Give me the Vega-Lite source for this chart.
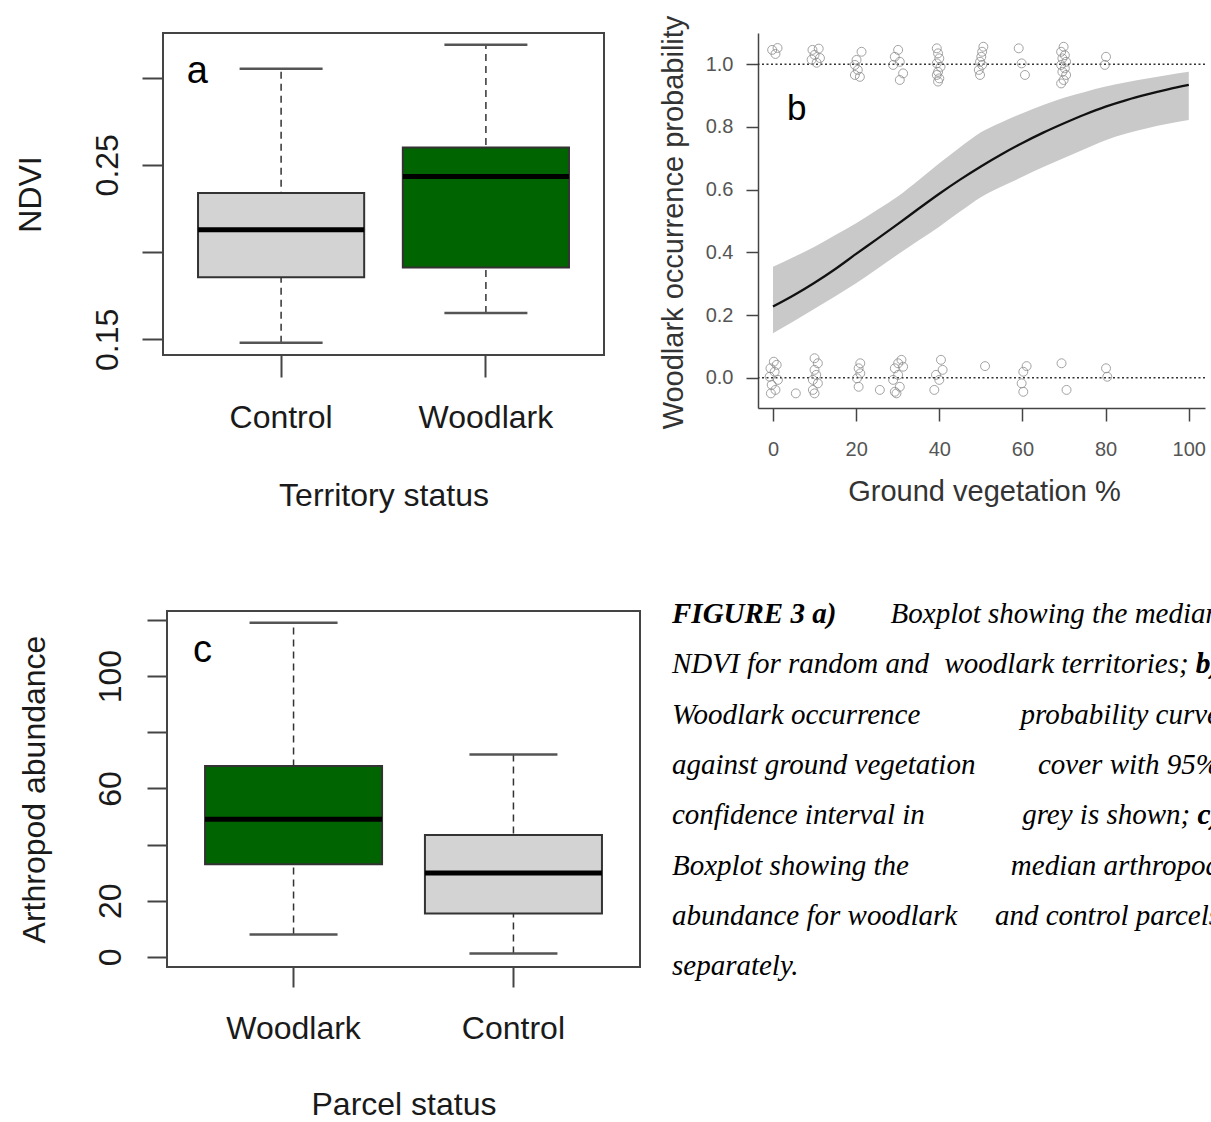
{
  "$schema": "https://vega.github.io/schema/vega-lite/v6.json",
  "autosize": {"type": "none"},
  "padding": {"left": 163, "top": 33, "right": 1048, "bottom": 1089},
  "background": "white",
  "usermeta": {"embedOptions": {"actions": false}},
  "config": {
    "font": "Liberation Sans",
    "view": {"stroke": null},
    "axis": {"grid": false, "labelFont": "Liberation Sans", "titleFont": "Liberation Sans", "titleFontWeight": "normal"}
  },
  "bounds": "flush",
  "spacing": 578,
  "vconcat": [
    {
      "bounds": "flush",
      "spacing": 154,
      "hconcat": [
        {
          "width": 441,
          "height": 322,
          "view": {"stroke": "#444", "strokeWidth": 2},
          "resolve": {"scale": {"x": "independent", "y": "independent"}},
          "layer": [
            {
              "data": {"values": [
                {"status": "Control", "lower": 0.148, "q1": 0.1856, "median": 0.2127, "q3": 0.2338, "upper": 0.305},
                {"status": "Woodlark", "lower": 0.165, "q1": 0.1911, "median": 0.2433, "q3": 0.2599, "upper": 0.3188}
              ]},
              "encoding": {
                "x": {
                  "field": "status", "type": "nominal",
                  "scale": {"domain": ["Control", "Woodlark"], "paddingInner": 0.1887, "paddingOuter": 0.171},
                  "axis": {"title": "Territory status", "domain": false, "tickSize": 22, "tickWidth": 2, "tickColor": "#444",
                    "labelFontSize": 32, "labelColor": "#1a1a1a", "labelPadding": 50, "labelBaseline": "alphabetic", "labelAngle": 0,
                    "titleFontSize": 32, "titleColor": "#1a1a1a", "titleX": 220.5, "titleY": 150, "titleBaseline": "alphabetic", "titleAlign": "center"}
                }
              },
              "layer": [
                {
                  "mark": {"type": "rule", "strokeDash": [7, 5], "strokeWidth": 1.5, "color": "#333"},
                  "encoding": {
                    "y": {"field": "lower", "type": "quantitative", "title": "NDVI",
                      "scale": {"domain": [0.141, 0.3255], "nice": false, "zero": false},
                      "axis": {"values": [0.15, 0.2, 0.25, 0.3], "format": ".2f",
                        "labelExpr": "datum.label == '0.15' || datum.label == '0.25' ? datum.label : ''",
                        "domain": false, "tickSize": 21, "tickWidth": 2, "tickColor": "#444",
                        "labelAngle": -90, "labelAlign": "center", "labelBaseline": "alphabetic", "labelPadding": 25, "labelOverlap": false,
                        "labelFontSize": 32, "labelColor": "#1a1a1a",
                        "titleFontSize": 32, "titleColor": "#1a1a1a", "titleAngle": -90, "titleX": -123, "titleY": 161, "titleAlign": "center", "titleBaseline": "alphabetic"}},
                    "y2": {"field": "upper"}
                  }
                },
                {
                  "mark": {"type": "tick", "size": 83, "thickness": 2.5, "color": "#555", "opacity": 1},
                  "encoding": {"y": {"field": "lower", "type": "quantitative", "title": "NDVI"}}
                },
                {
                  "mark": {"type": "tick", "size": 83, "thickness": 2.5, "color": "#555", "opacity": 1},
                  "encoding": {"y": {"field": "upper", "type": "quantitative", "title": "NDVI"}}
                },
                {
                  "mark": {"type": "bar", "stroke": "#333", "strokeWidth": 2, "opacity": 1},
                  "encoding": {
                    "y": {"field": "q1", "type": "quantitative", "title": "NDVI"},
                    "y2": {"field": "q3"},
                    "fill": {"field": "status", "type": "nominal", "scale": {"domain": ["Control", "Woodlark"], "range": ["#d3d3d3", "#006400"]}, "legend": null}
                  }
                },
                {
                  "mark": {"type": "tick", "size": 166, "thickness": 5, "color": "#000", "opacity": 1},
                  "encoding": {"y": {"field": "median", "type": "quantitative", "title": "NDVI"}}
                }
              ]
            },
            {
              "data": {"values": [{"label": "a"}]},
              "mark": {"type": "text", "fontSize": 38, "align": "left", "baseline": "alphabetic", "color": "#000"},
              "encoding": {
                "text": {"field": "label"},
                "x": {"datum": 0.54, "type": "quantitative", "scale": {"domain": [0.424, 2.576], "nice": false, "zero": false}, "axis": null},
                "y": {"datum": 0.297, "type": "quantitative", "scale": {"domain": [0.141, 0.3255], "nice": false, "zero": false}, "axis": null}
              }
            }
          ]
        },
        {
          "width": 447,
          "height": 375,
          "resolve": {"scale": {"x": "independent", "y": "independent"}},
          "layer": [
            {
              "encoding": {
                "x": {"field": "veg", "type": "quantitative", "title": "Ground vegetation %",
                  "scale": {"domain": [-3.6, 103.9], "nice": false, "zero": false},
                  "axis": {"values": [0, 20, 40, 60, 80, 100], "domainColor": "#444", "domainWidth": 1.5,
                    "tickSize": 13, "tickWidth": 1.5, "tickColor": "#444",
                    "labelFontSize": 20, "labelColor": "#555", "labelPadding": 34, "labelBaseline": "alphabetic", "labelFlush": false, "labelOverlap": false,
                    "titleFontSize": 29, "titleColor": "#333", "titleX": 226, "titleY": 92, "titleBaseline": "alphabetic", "titleAlign": "center"}
                }
              },
              "layer": [
                {
                  "data": {"values": [
                    {"veg": 0, "p": 0.227, "lo": 0.142, "hi": 0.354},
                    {"veg": 5, "p": 0.263, "lo": 0.18, "hi": 0.385},
                    {"veg": 10, "p": 0.303, "lo": 0.22, "hi": 0.418},
                    {"veg": 15, "p": 0.347, "lo": 0.26, "hi": 0.455},
                    {"veg": 20, "p": 0.395, "lo": 0.301, "hi": 0.493},
                    {"veg": 25, "p": 0.442, "lo": 0.347, "hi": 0.535},
                    {"veg": 30, "p": 0.49, "lo": 0.393, "hi": 0.578},
                    {"veg": 35, "p": 0.539, "lo": 0.438, "hi": 0.63},
                    {"veg": 40, "p": 0.587, "lo": 0.482, "hi": 0.684},
                    {"veg": 45, "p": 0.632, "lo": 0.53, "hi": 0.735},
                    {"veg": 50, "p": 0.674, "lo": 0.576, "hi": 0.783},
                    {"veg": 55, "p": 0.713, "lo": 0.61, "hi": 0.815},
                    {"veg": 60, "p": 0.749, "lo": 0.641, "hi": 0.844},
                    {"veg": 65, "p": 0.782, "lo": 0.672, "hi": 0.87},
                    {"veg": 70, "p": 0.812, "lo": 0.701, "hi": 0.893},
                    {"veg": 75, "p": 0.84, "lo": 0.73, "hi": 0.912},
                    {"veg": 80, "p": 0.865, "lo": 0.758, "hi": 0.929},
                    {"veg": 85, "p": 0.886, "lo": 0.779, "hi": 0.943},
                    {"veg": 90, "p": 0.904, "lo": 0.796, "hi": 0.955},
                    {"veg": 95, "p": 0.92, "lo": 0.81, "hi": 0.966},
                    {"veg": 100, "p": 0.934, "lo": 0.822, "hi": 0.976}
                  ]},
                  "layer": [
                    {
                      "mark": {"type": "area", "color": "#c9c9c9", "opacity": 1, "interpolate": "monotone"},
                      "encoding": {
                        "y": {"field": "lo", "type": "quantitative", "title": "Woodlark occurrence probability",
                          "scale": {"domain": [-0.0967, 1.0999], "nice": false, "zero": false},
                          "axis": {"values": [0, 0.2, 0.4, 0.6, 0.8, 1], "format": ".1f", "domainColor": "#444", "domainWidth": 1.5,
                            "tickSize": 12, "tickWidth": 1.5, "tickColor": "#444",
                            "labelFontSize": 20, "labelColor": "#555", "labelPadding": 13, "labelAlign": "right", "labelBaseline": "middle", "labelFlush": false, "labelOverlap": false,
                            "titleFontSize": 29, "titleColor": "#333", "titleAngle": -90, "titleX": -76, "titleY": 189, "titleAlign": "center", "titleBaseline": "alphabetic"}},
                        "y2": {"field": "hi"}
                      }
                    },
                    {
                      "mark": {"type": "line", "color": "#111", "strokeWidth": 2.3, "interpolate": "monotone"},
                      "encoding": {"y": {"field": "p", "type": "quantitative", "title": "Woodlark occurrence probability"}}
                    }
                  ]
                },
                {
                  "data": {"values": [{"ref": 0}, {"ref": 1}]},
                  "mark": {"type": "rule", "strokeDash": [2, 2.5], "strokeWidth": 1.5, "color": "#333"},
                  "encoding": {"x": null, "y": {"field": "ref", "type": "quantitative", "title": "Woodlark occurrence probability"}}
                },
                {
                  "data": {"values": [
                    {"veg": -0.2, "occ": 1.046}, {"veg": 1.1, "occ": 1.052}, {"veg": 0.6, "occ": 1.033},
                    {"veg": 9.5, "occ": 1.046}, {"veg": 11.0, "occ": 1.05}, {"veg": 10.0, "occ": 1.03}, {"veg": 11.3, "occ": 1.02}, {"veg": 9.3, "occ": 1.015}, {"veg": 10.5, "occ": 1.005},
                    {"veg": 21.3, "occ": 1.04}, {"veg": 20.1, "occ": 1.014}, {"veg": 19.7, "occ": 0.998}, {"veg": 20.4, "occ": 0.982}, {"veg": 19.7, "occ": 0.966}, {"veg": 20.9, "occ": 0.96},
                    {"veg": 30.1, "occ": 1.046}, {"veg": 29.3, "occ": 1.024}, {"veg": 30.5, "occ": 1.008}, {"veg": 28.9, "occ": 0.998}, {"veg": 31.3, "occ": 0.971}, {"veg": 30.5, "occ": 0.95},
                    {"veg": 39.4, "occ": 1.051}, {"veg": 39.7, "occ": 1.035}, {"veg": 40.0, "occ": 1.019}, {"veg": 39.4, "occ": 1.003}, {"veg": 40.3, "occ": 0.992}, {"veg": 39.7, "occ": 0.976}, {"veg": 39.4, "occ": 0.966}, {"veg": 40.0, "occ": 0.955}, {"veg": 39.7, "occ": 0.945},
                    {"veg": 50.6, "occ": 1.056}, {"veg": 50.3, "occ": 1.04}, {"veg": 50.1, "occ": 1.024}, {"veg": 49.8, "occ": 1.008}, {"veg": 50.3, "occ": 0.998}, {"veg": 49.5, "occ": 0.982}, {"veg": 49.8, "occ": 0.966},
                    {"veg": 59.1, "occ": 1.051}, {"veg": 59.8, "occ": 1.003}, {"veg": 60.6, "occ": 0.966},
                    {"veg": 69.9, "occ": 1.056}, {"veg": 69.3, "occ": 1.04}, {"veg": 70.2, "occ": 1.029}, {"veg": 69.6, "occ": 1.019}, {"veg": 70.5, "occ": 1.008}, {"veg": 69.3, "occ": 0.998}, {"veg": 70.2, "occ": 0.987}, {"veg": 69.6, "occ": 0.976}, {"veg": 70.5, "occ": 0.966}, {"veg": 69.9, "occ": 0.95}, {"veg": 69.3, "occ": 0.939},
                    {"veg": 80.1, "occ": 1.024}, {"veg": 79.8, "occ": 0.998},
                    {"veg": 0.2, "occ": 0.051}, {"veg": 0.9, "occ": 0.041}, {"veg": -0.6, "occ": 0.03}, {"veg": 0.4, "occ": 0.019}, {"veg": -0.8, "occ": 0.003}, {"veg": 1.2, "occ": -0.007}, {"veg": -0.3, "occ": -0.023}, {"veg": 0.6, "occ": -0.039}, {"veg": -0.5, "occ": -0.05},
                    {"veg": 5.5, "occ": -0.05},
                    {"veg": 10.0, "occ": 0.062}, {"veg": 10.8, "occ": 0.046}, {"veg": 10.0, "occ": 0.025}, {"veg": 10.4, "occ": 0.009}, {"veg": 9.6, "occ": -0.007}, {"veg": 10.8, "occ": -0.018}, {"veg": 9.6, "occ": -0.039}, {"veg": 10.0, "occ": -0.05},
                    {"veg": 21.0, "occ": 0.046}, {"veg": 20.6, "occ": 0.03}, {"veg": 21.0, "occ": 0.014}, {"veg": 20.2, "occ": -0.002}, {"veg": 20.6, "occ": -0.029},
                    {"veg": 25.7, "occ": -0.039},
                    {"veg": 30.9, "occ": 0.057}, {"veg": 30.1, "occ": 0.046}, {"veg": 31.3, "occ": 0.035}, {"veg": 29.3, "occ": 0.03}, {"veg": 30.1, "occ": 0.009}, {"veg": 28.9, "occ": -0.007}, {"veg": 30.5, "occ": -0.029}, {"veg": 29.3, "occ": -0.045}, {"veg": 29.7, "occ": -0.05},
                    {"veg": 40.4, "occ": 0.057}, {"veg": 40.8, "occ": 0.025}, {"veg": 39.2, "occ": 0.009}, {"veg": 40.0, "occ": -0.007}, {"veg": 38.8, "occ": -0.039},
                    {"veg": 51.0, "occ": 0.037},
                    {"veg": 61.0, "occ": 0.037}, {"veg": 60.2, "occ": 0.019}, {"veg": 59.8, "occ": -0.018}, {"veg": 60.2, "occ": -0.045},
                    {"veg": 69.4, "occ": 0.046}, {"veg": 70.6, "occ": -0.039},
                    {"veg": 80.1, "occ": 0.03}, {"veg": 80.4, "occ": 0.003}
                  ]},
                  "mark": {"type": "point", "shape": "circle", "filled": false, "size": 80, "stroke": "#8c8c8c", "strokeWidth": 1, "opacity": 0.8},
                  "encoding": {"y": {"field": "occ", "type": "quantitative", "title": "Woodlark occurrence probability"}}
                }
              ]
            },
            {
              "data": {"values": [{"label": "b"}]},
              "mark": {"type": "text", "fontSize": 35, "align": "left", "baseline": "alphabetic", "color": "#000"},
              "encoding": {
                "text": {"field": "label"},
                "x": {"datum": 3.4, "type": "quantitative", "scale": {"domain": [-3.6, 103.9], "nice": false, "zero": false}, "axis": null},
                "y": {"datum": 0.822, "type": "quantitative", "scale": {"domain": [-0.0967, 1.0999], "nice": false, "zero": false}, "axis": null}
              }
            }
          ]
        }
      ]
    },
    {
      "bounds": "flush",
      "spacing": 3,
      "hconcat": [
        {
          "width": 1,
          "height": 1,
          "data": {"values": [{"label": ""}]},
          "mark": {"type": "text"},
          "encoding": {"text": {"field": "label"}}
        },
        {
          "bounds": "flush",
          "spacing": 32,
          "hconcat": [
            {
              "width": 473,
              "height": 356,
              "view": {"stroke": "#444", "strokeWidth": 2},
              "resolve": {"scale": {"x": "independent", "y": "independent"}},
              "layer": [
                {
                  "data": {"values": [
                    {"status": "Woodlark", "lower": 8, "q1": 33, "median": 49, "q3": 68, "upper": 119},
                    {"status": "Control", "lower": 1.2, "q1": 15.5, "median": 29.9, "q3": 43.4, "upper": 72.1}
                  ]},
                  "encoding": {
                    "x": {
                      "field": "status", "type": "nominal",
                      "scale": {"domain": ["Woodlark", "Control"], "paddingInner": 0.195, "paddingOuter": 0.173},
                      "axis": {"title": "Parcel status", "domain": false, "tickSize": 20, "tickWidth": 2, "tickColor": "#444",
                        "labelFontSize": 32, "labelColor": "#1a1a1a", "labelPadding": 51, "labelBaseline": "alphabetic", "labelAngle": 0,
                        "titleFontSize": 32, "titleColor": "#1a1a1a", "titleX": 236.5, "titleY": 147, "titleBaseline": "alphabetic", "titleAlign": "center"}
                    }
                  },
                  "layer": [
                    {
                      "mark": {"type": "rule", "strokeDash": [7, 5], "strokeWidth": 1.5, "color": "#333"},
                      "encoding": {
                        "y": {"field": "lower", "type": "quantitative", "title": "Arthropod abundance",
                          "scale": {"domain": [-3.6, 123.2], "nice": false, "zero": false},
                          "axis": {"values": [0, 20, 40, 60, 80, 100, 120],
                            "labelExpr": "indexof(['0', '20', '60', '100'], datum.label) >= 0 ? datum.label : ''",
                            "domain": false, "tickSize": 20, "tickWidth": 2, "tickColor": "#444",
                            "labelAngle": -90, "labelAlign": "center", "labelBaseline": "alphabetic", "labelPadding": 27, "labelOverlap": false,
                            "labelFontSize": 32, "labelColor": "#1a1a1a",
                            "titleFontSize": 32, "titleColor": "#1a1a1a", "titleAngle": -90, "titleX": -123, "titleY": 178, "titleAlign": "center", "titleBaseline": "alphabetic"}},
                        "y2": {"field": "upper"}
                      }
                    },
                    {
                      "mark": {"type": "tick", "size": 88, "thickness": 2.5, "color": "#555", "opacity": 1},
                      "encoding": {"y": {"field": "lower", "type": "quantitative", "title": "Arthropod abundance"}}
                    },
                    {
                      "mark": {"type": "tick", "size": 88, "thickness": 2.5, "color": "#555", "opacity": 1},
                      "encoding": {"y": {"field": "upper", "type": "quantitative", "title": "Arthropod abundance"}}
                    },
                    {
                      "mark": {"type": "bar", "stroke": "#333", "strokeWidth": 2, "opacity": 1},
                      "encoding": {
                        "y": {"field": "q1", "type": "quantitative", "title": "Arthropod abundance"},
                        "y2": {"field": "q3"},
                        "fill": {"field": "status", "type": "nominal", "scale": {"domain": ["Woodlark", "Control"], "range": ["#006400", "#d3d3d3"]}, "legend": null}
                      }
                    },
                    {
                      "mark": {"type": "tick", "size": 177, "thickness": 5, "color": "#000", "opacity": 1},
                      "encoding": {"y": {"field": "median", "type": "quantitative", "title": "Arthropod abundance"}}
                    }
                  ]
                },
                {
                  "data": {"values": [{"label": "c"}]},
                  "mark": {"type": "text", "fontSize": 38, "align": "left", "baseline": "alphabetic", "color": "#000"},
                  "encoding": {
                    "text": {"field": "label"},
                    "x": {"datum": 0.542, "type": "quantitative", "scale": {"domain": [0.424, 2.576], "nice": false, "zero": false}, "axis": null},
                    "y": {"datum": 105.1, "type": "quantitative", "scale": {"domain": [-3.6, 123.2], "nice": false, "zero": false}, "axis": null}
                  }
                }
              ]
            },
            {
              "width": 548,
              "height": 420,
              "data": {"values": [
                {"line": 1, "lead": "FIGURE 3 a)", "end": "Boxplot showing the median"},
                {"line": 2, "start": "NDVI for random and", "end": "woodlark territories; b)", "endBold": "b)"},
                {"line": 3, "start": "Woodlark occurrence", "end": "probability curve"},
                {"line": 4, "start": "against ground vegetation", "end": "cover with 95%"},
                {"line": 5, "start": "confidence interval in", "end": "grey is shown; c)", "endBold": "c)"},
                {"line": 6, "start": "Boxplot showing the", "end": "median arthropod"},
                {"line": 7, "start": "abundance for woodlark", "end": "and control parcels"},
                {"line": 8, "start": "separately."}
              ]},
              "encoding": {
                "y": {"field": "line", "type": "quantitative", "scale": {"domain": [0.7614, 9.111], "reverse": true, "nice": false, "zero": false}, "axis": null}
              },
              "layer": [
                {
                  "transform": [{"filter": "datum.lead"}],
                  "mark": {"type": "text", "font": "Liberation Serif", "fontSize": 29, "fontStyle": "italic", "fontWeight": "bold", "align": "left", "baseline": "alphabetic", "color": "#000"},
                  "encoding": {
                    "text": {"field": "lead"},
                    "x": {"datum": 0, "type": "quantitative", "scale": {"domain": [0, 1], "nice": false, "zero": false}, "axis": null}
                  }
                },
                {
                  "transform": [{"filter": "datum.start"}],
                  "mark": {"type": "text", "font": "Liberation Serif", "fontSize": 29, "fontStyle": "italic", "align": "left", "baseline": "alphabetic", "color": "#000"},
                  "encoding": {
                    "text": {"field": "start"},
                    "x": {"datum": 0, "type": "quantitative", "scale": {"domain": [0, 1], "nice": false, "zero": false}, "axis": null}
                  }
                },
                {
                  "transform": [{"filter": "datum.end"}],
                  "mark": {"type": "text", "font": "Liberation Serif", "fontSize": 29, "fontStyle": "italic", "align": "right", "baseline": "alphabetic", "color": "#000"},
                  "encoding": {
                    "text": {"field": "end"},
                    "x": {"datum": 1, "type": "quantitative", "scale": {"domain": [0, 1], "nice": false, "zero": false}, "axis": null}
                  }
                },
                {
                  "transform": [{"filter": "datum.endBold"}],
                  "mark": {"type": "text", "font": "Liberation Serif", "fontSize": 29, "fontStyle": "italic", "fontWeight": "bold", "align": "right", "baseline": "alphabetic", "color": "#000"},
                  "encoding": {
                    "text": {"field": "endBold"},
                    "x": {"datum": 1, "type": "quantitative", "scale": {"domain": [0, 1], "nice": false, "zero": false}, "axis": null}
                  }
                }
              ]
            }
          ]
        }
      ]
    }
  ]
}
